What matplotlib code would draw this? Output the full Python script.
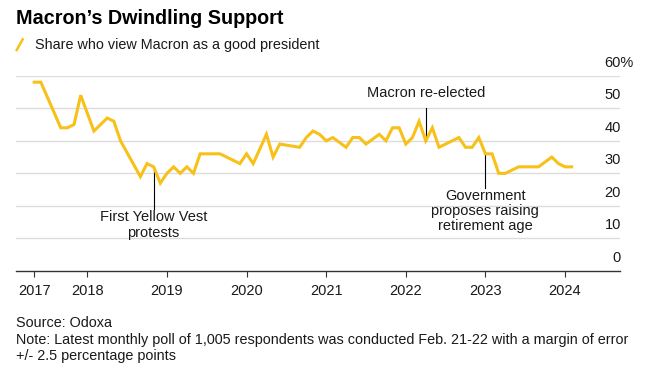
"""
Macron's Dwindling Support - Odoxa monthly poll, redrawn in matplotlib.
Writes out.png at 665x374.
"""
import matplotlib
matplotlib.use('Agg')
import matplotlib.pyplot as plt
from matplotlib.lines import Line2D

# Poll months (YYYY-MM) and share who view Macron as a good president (%)
months = [
    '2017-05', '2017-06', '2017-09', '2017-10', '2017-11', '2017-12',
    '2018-02', '2018-04', '2018-05', '2018-06', '2018-09', '2018-10',
    '2018-11', '2018-12', '2019-01', '2019-02', '2019-03', '2019-04',
    '2019-05', '2019-06', '2019-09', '2019-12', '2020-01', '2020-02',
    '2020-04', '2020-05', '2020-06', '2020-09', '2020-10', '2020-11',
    '2020-12', '2021-01', '2021-02', '2021-04', '2021-05', '2021-06',
    '2021-07', '2021-09', '2021-10', '2021-11', '2021-12', '2022-01',
    '2022-02', '2022-03', '2022-04', '2022-05', '2022-06', '2022-07',
    '2022-09', '2022-10', '2022-11', '2022-12', '2023-01', '2023-02',
    '2023-03', '2023-04', '2023-06', '2023-09', '2023-11', '2023-12',
    '2024-01', '2024-02',
]
share = [
    58, 58, 44, 44, 45, 54,
    43, 47, 46, 40, 29, 33,
    32, 27, 30, 32, 30, 32,
    30, 36, 36, 33, 36, 33,
    42, 35, 39, 38, 41, 43,
    42, 40, 41, 38, 41, 41,
    39, 42, 40, 44, 44, 39,
    41, 46, 40, 44, 38, 39,
    41, 38, 38, 41, 36, 36,
    30, 30, 32, 32, 35, 33,
    32, 32,
]

tick_labels = ['2017', '2018', '2019', '2020', '2021', '2022', '2023', '2024']
y_levels = [0, 10, 20, 30, 40, 50, 60]

# (month, label, text y in data units, line end in data units)
events = [
    ('2018-11', 'First Yellow Vest\nprotests', 18.6, 19.0),
    ('2022-04', 'Macron re-elected', 54.8, 50.0),
    ('2023-01', 'Government\nproposes raising\nretirement age', 25.2, 25.4),
]


def to_year(m):
    y, mo = m.split('-')
    return int(y) + (int(mo) - 1) / 12


W, H = 665, 374
YELLOW = '#F7C11A'
DARK = '#1a1a1a'
FONT = ['Liberation Sans', 'DejaVu Sans']
plt.rcParams['font.family'] = FONT


def fx(px):
    return px / W


def fy(py):
    return 1 - py / H


fig = plt.figure(figsize=(W / 100, H / 100), dpi=100)
fig.patch.set_facecolor('white')
ax = fig.add_axes([fx(16), fy(271), fx(620) - fx(16), fy(75.7) - fy(271)])

xs = [to_year(m) for m in months]
ax.plot(xs, share, color=YELLOW, lw=2.2, solid_joinstyle='miter', zorder=3)

ax.set_xlim(2017.1045, 2024.690)
ax.set_ylim(0, 60)

for v in y_levels[1:]:
    ax.axhline(v, color='#dcdcdc', lw=1.0, zorder=1)

for s in ('top', 'left', 'right'):
    ax.spines[s].set_visible(False)
ax.spines['bottom'].set_color('#333333')
ax.spines['bottom'].set_linewidth(1.0)

ticks = [xs[0]] + list(range(2018, 2025))
ax.set_xticks(ticks)
ax.set_xticklabels(tick_labels, fontsize=10.5, color=DARK)
ax.tick_params(axis='x', length=4.5, width=0.8, color='#333333', pad=5)
ax.set_yticks([])

# right-hand value labels, sitting above their gridlines
for v in y_levels:
    y = fy(271) + (fy(75.7) - fy(271)) * v / 60 + 13 / H
    if v == 60:
        fig.text(fx(604), y, '60%', ha='left', va='center', fontsize=10.5, color=DARK)
    else:
        fig.text(fx(621), y, str(v), ha='right', va='center', fontsize=10.5, color=DARK)

# event annotations
for m, label, ty, yend in events:
    x = to_year(m)
    yv = share[months.index(m)]
    ax.plot([x, x], [yv, yend], color='black', lw=0.8, zorder=2)
    if ty > yv:
        ax.text(x, ty, label, ha='center', va='center', fontsize=10.5, color=DARK)
    else:
        ax.text(x, ty, label, ha='center', va='top', fontsize=10.5, color=DARK,
                linespacing=1.1)

# header
fig.text(fx(16), fy(24.5), 'Macron\u2019s Dwindling Support', fontsize=14.2,
         weight='bold', color='black', va='baseline')
fig.add_artist(Line2D([fx(16.7), fx(22.7)], [fy(50), fy(39.3)], color=YELLOW,
                      lw=1.8, transform=fig.transFigure))
fig.text(fx(35), fy(48.5), 'Share who view Macron as a good president',
         fontsize=10.4, color=DARK, va='baseline')

# footer
fig.text(fx(16), fy(327), 'Source: Odoxa', fontsize=10.4, color=DARK, va='baseline')
fig.text(fx(16), fy(344),
         'Note: Latest monthly poll of 1,005 respondents was conducted Feb. 21-22 '
         'with a margin of error', fontsize=10.4, color=DARK, va='baseline')
fig.text(fx(16), fy(360), '+/- 2.5 percentage points', fontsize=10.4, color=DARK,
         va='baseline')

fig.savefig('out.png', dpi=100, facecolor='white')
